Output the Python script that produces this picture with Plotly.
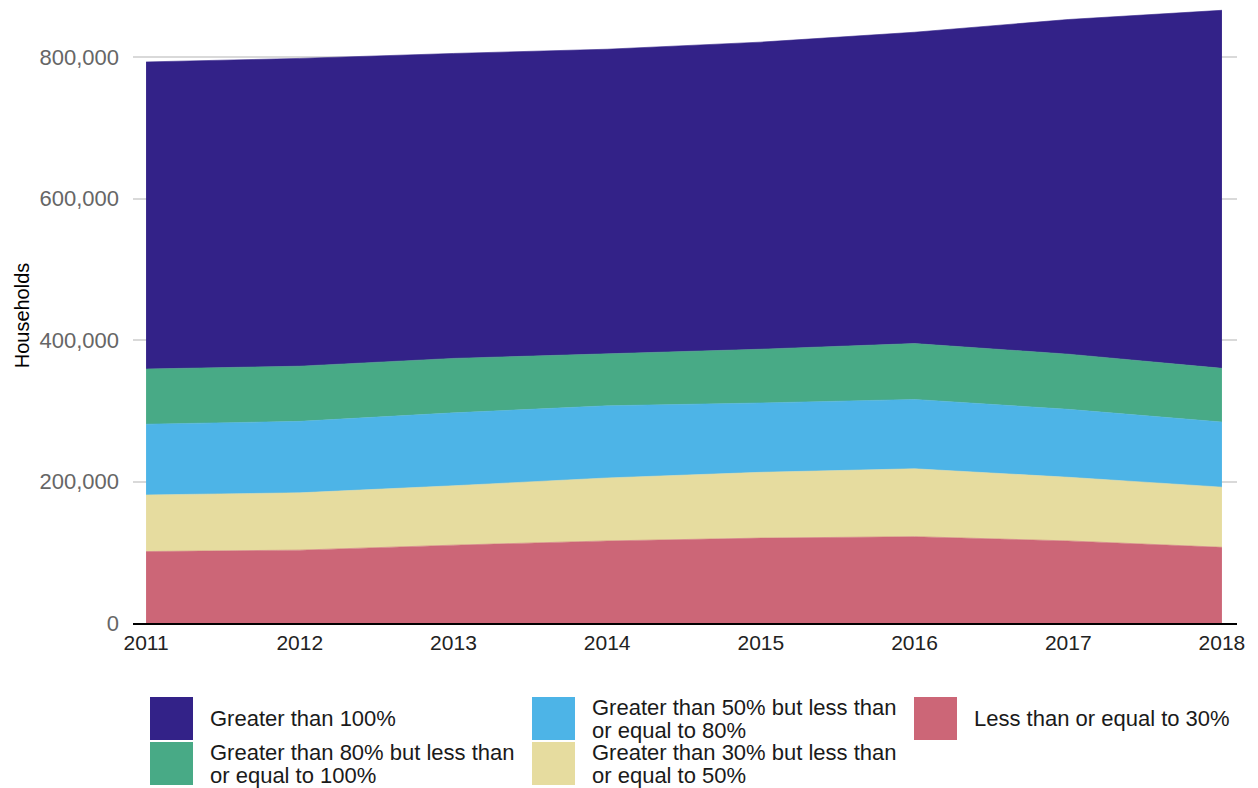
import plotly.graph_objects as go

years = [2011, 2012, 2013, 2014, 2015, 2016, 2017, 2018]

# Households by share (stacked bottom -> top)
le_30 = [101000, 103000, 110000, 116000, 120000, 122000, 116000, 107000]
gt30_le50 = [80000, 81000, 84000, 89000, 93000, 96000, 90000, 85000]
gt50_le80 = [100000, 101000, 103000, 102000, 98000, 98000, 96000, 92000]
gt80_le100 = [78000, 78000, 77000, 73000, 76000, 79000, 78000, 76000]
gt_100 = [434000, 435000, 431000, 431000, 434000, 440000, 473000, 506000]

series_names = [
    "Less than or equal to 30%",
    "Greater than 30% but less than<br>or equal to 50%",
    "Greater than 50% but less than<br>or equal to 80%",
    "Greater than 80% but less than<br>or equal to 100%",
    "Greater than 100%",
]
series_values = [le_30, gt30_le50, gt50_le80, gt80_le100, gt_100]
colors = ["#CC6677", "#E6DC9F", "#4DB4E7", "#48AA86", "#332288"]

y_tickvals = [0, 200000, 400000, 600000, 800000]

FONT = "Liberation Sans, Arial, sans-serif"

# The page body adds an 8px margin; lay out in figure pixels = screen - 8
OFF = 8
FW, FH = 1258 - OFF, 788 - OFF
L, R, T, B = 133 - OFF, 1237 - OFF, 0, 623 - OFF
W, H = R - L, B - T

fig = go.Figure()
for name, vals, col in zip(series_names, series_values, colors):
    fig.add_trace(go.Scatter(
        x=years, y=vals, name=name.replace("<br>", " "),
        stackgroup="one", mode="lines",
        line=dict(width=0.6, color=col), fillcolor=col,
        showlegend=False, hoverinfo="skip",
    ))


def px_x(px):  # screen px -> paper
    return (px - OFF - L) / W


def px_y(py):
    return (B - (py - OFF)) / H


# Legend layout: column-major, two rows (screen pixels)
legend_order = [4, 3, 2, 1, 0]
col_x = [150, 532, 914]
row_y = [697, 742]
sw = 43
shapes = []
annotations = []
for k, idx in enumerate(legend_order):
    c, r = divmod(k, 2)
    x0 = col_x[c]
    y0 = row_y[r]
    shapes.append(dict(
        type="rect", xref="paper", yref="paper",
        x0=px_x(x0), x1=px_x(x0 + sw), y0=px_y(y0), y1=px_y(y0 + sw),
        fillcolor=colors[idx], line=dict(width=0),
    ))
    lines = series_names[idx].split("<br>")
    yc = y0 + sw / 2
    n = len(lines)
    for i, ln in enumerate(lines):
        yy = yc + (i - (n - 1) / 2) * 23
        annotations.append(dict(
            xref="paper", yref="paper", x=px_x(x0 + 58), y=px_y(yy),
            xanchor="left", yanchor="middle", text=ln, showarrow=False,
            font=dict(family=FONT, size=22, color="#1a1a1a"),
        ))

ymax = (623 - OFF) / 566 * 800000

fig.update_layout(
    width=FW, height=FH,
    margin=dict(l=L, r=FW - R, t=T, b=FH - B),
    paper_bgcolor="white", plot_bgcolor="white",
    shapes=shapes, annotations=annotations,
    font=dict(family=FONT),
)
fig.update_xaxes(
    range=[2010.915, 2018.098], tickvals=years, ticktext=[str(y) for y in years],
    showgrid=False, zeroline=False, showline=True, linecolor="black", linewidth=2,
    ticks="", tickfont=dict(size=21, color="#222222"), fixedrange=True,
)
fig.update_yaxes(
    range=[0, ymax], tickvals=y_tickvals, tickformat=",",
    showgrid=True, gridcolor="#d9d9d9", gridwidth=1.5, zeroline=False,
    ticks="", ticklabelstandoff=13,
    tickfont=dict(size=22, color="#666666"),
    title=dict(text="Households", font=dict(size=20, color="black"), standoff=4),
    fixedrange=True,
)

fig.write_html("out.html")
